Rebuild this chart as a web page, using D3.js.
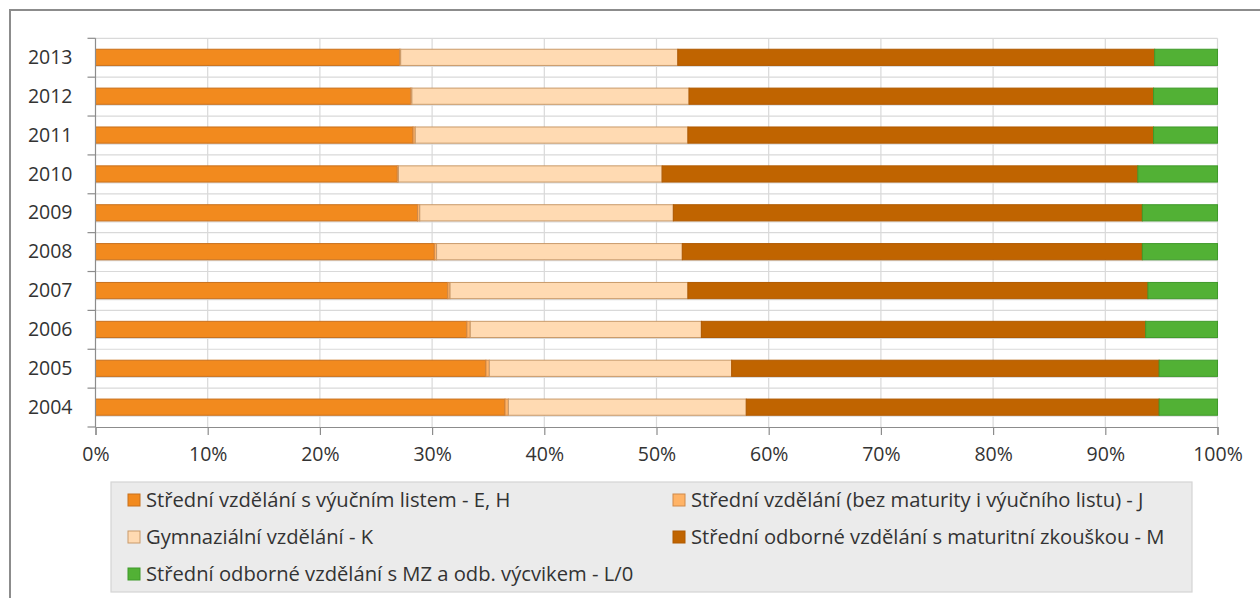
<!DOCTYPE html>
<html><head><meta charset="utf-8">
<script src="https://cdn.jsdelivr.net/npm/d3@7"></script>
<style>
html,body{margin:0;padding:0;background:#fff;}
svg{display:block;}
text{font-family:"Open Sans","Noto Sans",sans-serif;fill:#333;}
</style></head>
<body>
<svg id="chart" width="1260" height="598"></svg>
<script>
const years = ["2013","2012","2011","2010","2009","2008","2007","2006","2005","2004"];
const seriesNames = [
  "Střední vzdělání s výučním listem - E, H",
  "Střední vzdělání (bez maturity i výučního listu) - J",
  "Gymnaziální vzdělání - K",
  "Střední odborné vzdělání s maturitní zkouškou - M",
  "Střední odborné vzdělání s MZ a odb. výcvikem - L/0"
];
const valEH = [27.1, 28.1, 28.3, 26.9, 28.7, 30.2, 31.4, 33.1, 34.8, 36.5];
const valJ  = [0.1, 0.1, 0.2, 0.1, 0.2, 0.2, 0.2, 0.3, 0.3, 0.3];
const valK  = [24.7, 24.7, 24.3, 23.5, 22.6, 21.9, 21.2, 20.6, 21.6, 21.2];
const valM  = [42.5, 41.4, 41.5, 42.4, 41.8, 41.0, 41.0, 39.6, 38.1, 36.8];
const valL  = [5.6, 5.7, 5.7, 7.1, 6.7, 6.7, 6.2, 6.4, 5.2, 5.2];
const xTicks = [0,10,20,30,40,50,60,70,80,90,100];
const fills   = ["#F28A1E","#FFB366","#FFDAB2","#C06400","#52B135"];
const strokes = ["#C8701C","#D08A4A","#C99A6A","#B05A00","#3F9A2A"];

const keys = ["EH","J","K","M","L"];
const rows = years.map((y,i)=>({year:y, EH:valEH[i], J:valJ[i], K:valK[i], M:valM[i], L:valL[i]}));
const stacked = d3.stack().keys(keys)(rows);

const svg = d3.select("#chart");
const L = 95.5, R = 1217.5, T = 38.3, B = 427;
const x = d3.scaleLinear().domain([0,100]).range([L,R]);
const y = d3.scaleBand().domain(years).range([T,B]).padding(0);
const barH = 16.2;

// outer border
svg.append("rect").attr("x",10).attr("y",10).attr("width",1262).attr("height",600)
  .attr("fill","none").attr("stroke","#8c8c8c").attr("stroke-width",2);

// vertical gridlines
svg.append("g").selectAll("line").data(xTicks.slice(1)).join("line")
  .attr("x1",d=>x(d)).attr("x2",d=>x(d)).attr("y1",T).attr("y2",B)
  .attr("stroke","#d9d9d9").attr("stroke-width",1.2);
// horizontal gridlines at band boundaries
svg.append("g").selectAll("line").data(years).join("line")
  .attr("x1",L).attr("x2",R).attr("y1",d=>y(d)).attr("y2",d=>y(d))
  .attr("stroke","#d9d9d9").attr("stroke-width",1.2);
// secondary lines below bars
svg.append("g").selectAll("line").data(years).join("line")
  .attr("x1",L).attr("x2",R)
  .attr("y1",d=>y(d)+y.bandwidth()/2+8.6).attr("y2",d=>y(d)+y.bandwidth()/2+8.6)
  .attr("stroke","#dcdcdc").attr("stroke-width",1.2);

// bars
const gBars = svg.append("g");
stacked.forEach((s,si)=>{
  gBars.append("g").selectAll("rect").data(s).join("rect")
    .attr("x",d=>x(d[0])).attr("width",d=>Math.max(0,x(d[1])-x(d[0])))
    .attr("y",d=>y(d.data.year)+y.bandwidth()/2-barH/2-0.4).attr("height",barH)
    .attr("fill",fills[si]).attr("stroke",strokes[si]).attr("stroke-width",1);
});

// axes
const yAxis = d3.axisLeft(y).tickSize(0).tickPadding(23);
const gy = svg.append("g").attr("transform",`translate(${L},0)`).call(yAxis);
gy.select(".domain").remove();
gy.selectAll("text").attr("font-size",19.5).attr("fill","#333").style("font-family","'Open Sans'");
// y ticks at band boundaries
svg.append("g").selectAll("line").data(years.concat(["__end"])).join("line")
  .attr("x1",L-8).attr("x2",L)
  .attr("y1",d=>d==="__end"?B:y(d)).attr("y2",d=>d==="__end"?B:y(d))
  .attr("stroke","#8c8c8c").attr("stroke-width",1.2);
svg.append("line").attr("x1",L).attr("x2",L).attr("y1",T).attr("y2",B)
  .attr("stroke","#8c8c8c").attr("stroke-width",1.2);

const xAxis = d3.axisBottom(x).tickValues(xTicks).tickFormat(d=>d+"%").tickSize(8).tickPadding(12);
const gx = svg.append("g").attr("transform",`translate(0,${B})`).call(xAxis);
gx.select(".domain").attr("stroke","#8c8c8c").attr("stroke-width",1.2);
gx.selectAll(".tick line").attr("stroke","#8c8c8c").attr("stroke-width",1.2);
gx.selectAll("text").attr("font-size",19.5).attr("fill","#333").style("font-family","'Open Sans'");

// legend
svg.append("rect").attr("x",111).attr("y",482).attr("width",1081).attr("height",110)
  .attr("fill","#ebebeb").attr("stroke","#d4d4d4").attr("stroke-width",1.2);
const legPos = [[128,500],[673,500],[128,537],[673,537],[128,574]];
const lg = svg.append("g").selectAll("g").data(seriesNames).join("g")
  .attr("transform",(d,i)=>`translate(${legPos[i][0]},${legPos[i][1]})`);
lg.append("rect").attr("x",0).attr("y",-6).attr("width",12).attr("height",12)
  .attr("fill",(d,i)=>fills[i]).attr("stroke",(d,i)=>strokes[i]).attr("stroke-width",1);
lg.append("text").attr("x",18).attr("y",0).attr("dy","0.35em")
  .attr("font-size",20.2).text(d=>d);
</script>
</body></html>
